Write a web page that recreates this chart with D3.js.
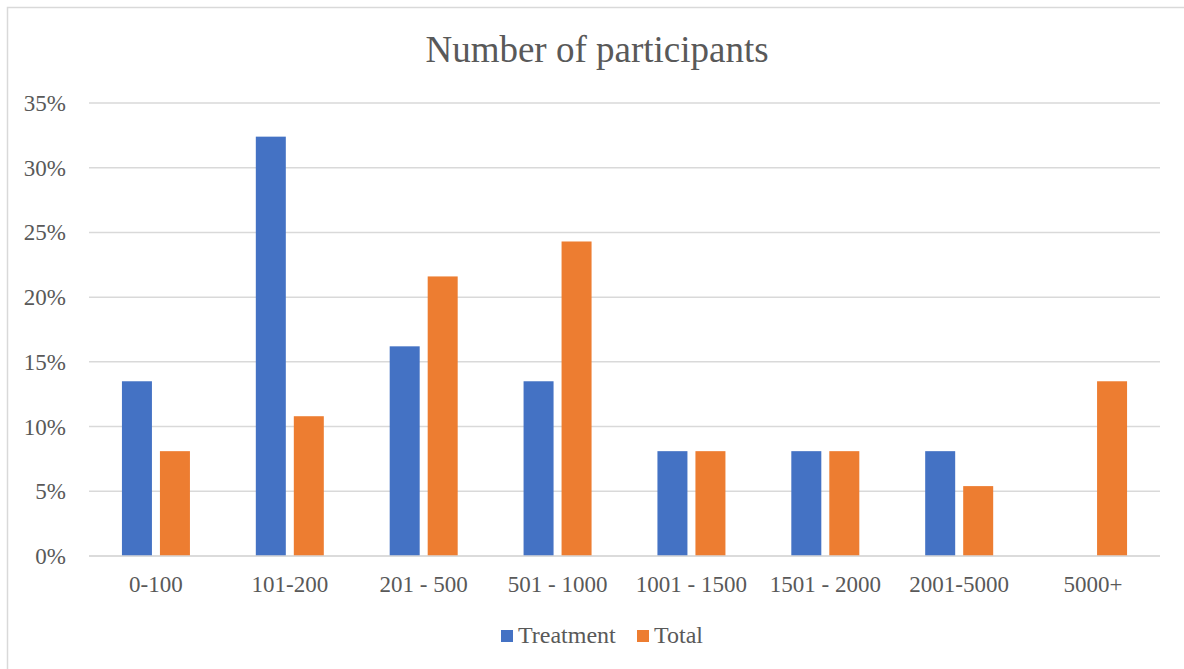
<!DOCTYPE html>
<html>
<head>
<meta charset="utf-8">
<script src="https://cdn.jsdelivr.net/npm/d3@7"></script>
<style>
  body { margin: 0; background: #fff; }
  text { font-family: "Liberation Serif", "Times New Roman", serif; fill: #595959; }
</style>
</head>
<body>
<div id="wrapper"></div>
<script>
// data (percent of participants)
const categories = ["0-100", "101-200", "201 - 500", "501 - 1000", "1001 - 1500", "1501 - 2000", "2001-5000", "5000+"]
const treatment = [13.5, 32.4, 16.2, 13.5, 8.1, 8.1, 8.1, 0]
const total = [8.1, 10.8, 21.6, 24.3, 8.1, 8.1, 5.4, 13.5]
const seriesNames = ["Treatment", "Total"]
const yTicks = [0, 5, 10, 15, 20, 25, 30, 35]
const colors = ["#4472C4", "#ED7D31"]

const width = 1184
const height = 669
let dimensions = {
    margin: { top: 103, right: 24, bottom: 113, left: 89 },
}
dimensions.boundedWidth = width - dimensions.margin.left - dimensions.margin.right
dimensions.boundedHeight = height - dimensions.margin.top - dimensions.margin.bottom

const svg = d3.select("#wrapper").append("svg")
    .attr("width", width)
    .attr("height", height)

// chart border
svg.append("rect")
    .attr("x", 7.5).attr("y", 7.5)
    .attr("width", 1200).attr("height", 700)
    .attr("fill", "none")
    .attr("stroke", "#d9d9d9")
    .attr("stroke-width", 1.5)

// title
svg.append("text")
    .attr("x", 597)
    .attr("y", 62)
    .attr("text-anchor", "middle")
    .style("font-size", "37px")
    .text("Number of participants")

const bounds = svg.append("g")
    .attr("transform", `translate(${dimensions.margin.left},${dimensions.margin.top})`)

const xScale = d3.scaleBand()
    .domain(categories)
    .range([0, dimensions.boundedWidth])

const yScale = d3.scaleLinear()
    .domain([0, 35])
    .range([dimensions.boundedHeight, 0])

// gridlines
bounds.append("g")
    .selectAll("line")
    .data(yTicks)
    .enter().append("line")
    .attr("x1", 0)
    .attr("x2", dimensions.boundedWidth)
    .attr("y1", d => yScale(d))
    .attr("y2", d => yScale(d))
    .attr("stroke", "#d9d9d9")
    .attr("stroke-width", 1.5)

// y labels
bounds.append("g")
    .selectAll("text")
    .data(yTicks)
    .enter().append("text")
    .attr("x", -23)
    .attr("y", d => yScale(d) + 8)
    .attr("text-anchor", "end")
    .style("font-size", "23px")
    .text(d => d + "%")

// bars
const barW = 30
const gap = 8
const series = [treatment, total]
series.forEach((vals, s) => {
    bounds.append("g")
        .selectAll("rect")
        .data(vals.map((v, i) => ({ cat: categories[i], v })))
        .enter().append("rect")
        .filter(d => d.v > 0)
        .attr("x", d => xScale(d.cat) + xScale.bandwidth() / 2 + (s === 0 ? -gap / 2 - barW : gap / 2))
        .attr("y", d => yScale(d.v))
        .attr("width", barW)
        .attr("height", d => dimensions.boundedHeight - yScale(d.v))
        .attr("fill", colors[s])
})

// baseline redrawn over bars
bounds.append("line")
    .attr("x1", 0).attr("x2", dimensions.boundedWidth)
    .attr("y1", yScale(0)).attr("y2", yScale(0))
    .attr("stroke", "#d9d9d9").attr("stroke-width", 1.5)

// x labels
bounds.append("g")
    .selectAll("text")
    .data(categories)
    .enter().append("text")
    .attr("x", d => xScale(d) + xScale.bandwidth() / 2)
    .attr("y", dimensions.boundedHeight + 36)
    .attr("text-anchor", "middle")
    .style("font-size", "23px")
    .text(d => d)

// legend
const legend = svg.append("g").attr("transform", "translate(501,630)")
const legendX = [0, 136]
seriesNames.forEach((name, i) => {
    legend.append("rect")
        .attr("x", legendX[i]).attr("y", 0)
        .attr("width", 12).attr("height", 12)
        .attr("fill", colors[i])
    legend.append("text")
        .attr("x", legendX[i] + 17)
        .attr("y", 13)
        .style("font-size", "24px")
        .text(name)
})
</script>
</body>
</html>
